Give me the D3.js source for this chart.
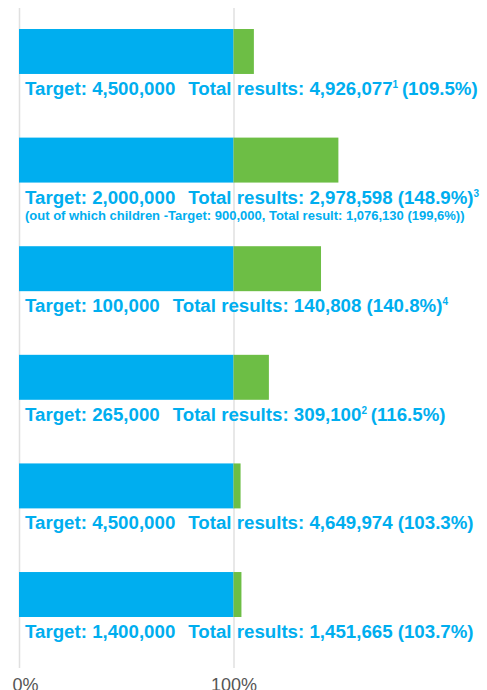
<!DOCTYPE html>
<html>
<head>
<meta charset="utf-8">
<script src="https://cdn.jsdelivr.net/npm/d3@7"></script>
<style>
  body { margin: 0; background: #fff; }
  svg { display: block; font-family: "Liberation Sans", Arial, sans-serif; }
</style>
</head>
<body>
<div id="chart"></div>
<script>
// Data
const targets = [4500000, 2000000, 100000, 265000, 4500000, 1400000];
const results = [4926077, 2978598, 140808, 309100, 4649974, 1451665];
const percents = [109.5, 148.9, 140.8, 116.5, 103.3, 103.7];
const footnotes = ["1", "3", "4", "2", "", ""];
const footnoteAfter = ["number", "percent", "percent", "number", "", ""];
const subNotes = ["", "(out of which children -Target: 900,000, Total result: 1,076,130 (199,6%))", "", "", "", ""];
const axisTicks = [0, 100];

const data = targets.map((t, i) => ({
  i, target: t, result: results[i], pct: percents[i],
  fn: footnotes[i], fnAfter: footnoteAfter[i], note: subNotes[i]
}));

// Chart dimensions
const width = 487;
const height = 690;
const blue = "#00aeef";
const green = "#6dbe45";
const fmt = d3.format(",");

const x = d3.scaleLinear([0, 100], [19, 233.5]);
const y = d3.scaleBand(data.map(d => d.i), [29, 617])
  .paddingInner(0.586)
  .paddingOuter(0);

const svg = d3.create("svg")
  .attr("width", width)
  .attr("height", height)
  .attr("viewBox", [0, 0, width, height]);

d3.select("#chart").append(() => svg.node());

// Gridlines + bottom labels (cut by the bottom edge, as in the original)
const axisY = 668;
svg.append("g")
  .attr("transform", `translate(0,${axisY})`)
  .call(d3.axisBottom(x).tickValues(axisTicks).tickSize(-(axisY - 8)).tickPadding(10).tickFormat(d => d + "%"))
  .call(g => g.select(".domain").remove())
  .call(g => g.selectAll(".tick line").attr("stroke", "#e0e0e0").attr("stroke-width", 1.5))
  .call(g => g.selectAll(".tick text")
    .attr("fill", "#555")
    .attr("font-size", 18)
    .attr("font-family", "'Liberation Sans', Arial, sans-serif")
    .attr("dx", d => d === 0 ? 6 : 0));

// Bars: target part (0-100%) and exceeding part
const rows = svg.append("g").selectAll("g")
  .data(data)
  .join("g");

rows.append("rect")
  .attr("x", x(0))
  .attr("y", d => y(d.i))
  .attr("width", x(100) - x(0))
  .attr("height", y.bandwidth())
  .attr("fill", blue);

rows.append("rect")
  .attr("x", x(100))
  .attr("y", d => y(d.i))
  .attr("width", d => x(d.pct) - x(100))
  .attr("height", y.bandwidth())
  .attr("fill", green);

// Labels
const labelX = 25;
const gap = 13;
const fs = 18.7;

rows.each(function(d) {
  const g = d3.select(this);
  const base = y(d.i) + y.bandwidth() + 21;

  const t1 = g.append("text")
    .attr("x", labelX)
    .attr("y", base)
    .attr("fill", blue)
    .attr("font-weight", "bold")
    .attr("font-size", fs)
    .text(`Target: ${fmt(d.target)}`);
  const w1 = t1.node().getComputedTextLength();

  const t2 = g.append("text")
    .attr("x", labelX + w1 + gap)
    .attr("y", base)
    .attr("fill", blue)
    .attr("font-weight", "bold")
    .attr("font-size", fs);

  const sup = (txt) => {
    t2.append("tspan").attr("font-size", 10).attr("dy", -7).text(txt);
    t2.append("tspan").attr("dy", 7).text("\u2009");
  };

  t2.append("tspan").text(`Total results: ${fmt(d.result)}`);
  if (d.fnAfter === "number") sup(d.fn);
  t2.append("tspan").text(`${d.fnAfter === "number" ? "" : " "}(${d.pct.toFixed(1)}%)`);
  if (d.fnAfter === "percent") sup(d.fn);

  if (d.note) {
    g.append("text")
      .attr("x", labelX)
      .attr("y", base + 16)
      .attr("fill", blue)
      .attr("font-weight", "bold")
      .attr("font-size", 13)
      .text(d.note);
  }
});
</script>
</body>
</html>
